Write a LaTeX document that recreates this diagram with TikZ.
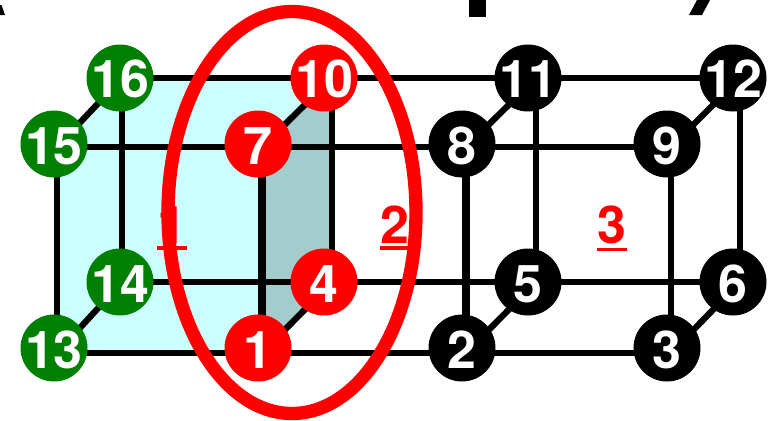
\documentclass[tikz,border=0pt]{standalone}
\usepackage{fontspec}
\setmainfont{TeX Gyre Heros}
\pgfdeclarelayer{back}
\pgfsetlayers{back,main}
\definecolor{nodegreen}{RGB}{0,128,0}
\definecolor{facecyan}{HTML}{CCFFFF}
\definecolor{facegrey}{HTML}{A3CCCC}
\newcommand\dgt[1]{\makebox[0pt]{#1}}
\tikzset{
  pt/.style={circle,inner sep=0pt,minimum size=50.25pt,text=white,
    font=\bfseries\fontsize{39}{41}\selectfont,text height=30pt,text depth=0pt},
  gn/.style={pt,fill=nodegreen},
  rd/.style={pt,fill=red},
  bk/.style={pt,fill=black},
  wire/.style={line width=4.7pt,black},
  thick wire/.style={line width=6.2pt,black},
  lab/.style={text=red,inner sep=0pt,anchor=base,font=\bfseries\fontsize{39}{41}\selectfont},
  ul/.style={red,line width=2.6pt}
}
\begin{document}
\begin{tikzpicture}[x=0.75pt,y=-0.75pt]
\useasboundingbox (0,0) rectangle (769,421);
% nodes
\node[gn] (n13) at (54,348) {\dgt{13}};
\node[gn] (n14) at (120,282) {\dgt{14}};
\node[gn] (n15) at (54,144) {\dgt{15}};
\node[gn] (n16) at (120,78) {\dgt{16}};
\node[rd] (n1) at (258,348) {\dgt{1}};
\node[rd] (n4) at (324,282) {\dgt{4}};
\node[rd] (n7) at (258,144) {\dgt{7}};
\node[rd] (n10) at (324,78) {\dgt{10}};
\node[bk] (n2) at (462,348) {\dgt{2}};
\node[bk] (n5) at (528,282) {\dgt{5}};
\node[bk] (n8) at (462,144) {\dgt{8}};
\node[bk] (n11) at (528,78) {\dgt{11}};
\node[bk] (n3) at (667,348) {\dgt{3}};
\node[bk] (n6) at (733,282) {\dgt{6}};
\node[bk] (n9) at (667,144) {\dgt{9}};
\node[bk] (n12) at (733,78) {\dgt{12}};
\begin{pgfonlayer}{back}
% clipped fragments of the title above
\fill (0,5) -- (1.5,5) -- (5,15) -- (0,15) -- cycle;
\fill (469,0) rectangle (486,17);
\fill (697,0) -- (710,0) -- (702,15) -- (689,15) -- cycle;
% faces
\fill[facecyan] (57,147) -- (122,78) -- (332,78) -- (262,147) -- (262,353) -- (57,353) -- cycle;
\fill[facegrey] (262,147) -- (332,78) -- (332,282) -- (262,353) -- cycle;
% connectors
\draw[wire] ([shift={(2,0)}]n16.center) -- ([shift={(8,0)}]n10.center) -- ([shift={(8,0)}]n11.center) -- ([shift={(7,0)}]n12.center);
\draw[wire] ([shift={(3,3)}]n15.center) -- ([shift={(4,3)}]n7.center) -- ([shift={(4,3)}]n8.center) -- ([shift={(4,3)}]n9.center);
\draw[wire] ([shift={(2,0)}]n14.center) -- ([shift={(8,0)}]n4.center) -- ([shift={(8,0)}]n5.center) -- ([shift={(7,0)}]n6.center);
\draw[wire] ([shift={(3,5)}]n13.center) -- ([shift={(4,5)}]n1.center) -- ([shift={(4,5)}]n2.center) -- ([shift={(4,5)}]n3.center);
\draw[wire] ([shift={(3,3)}]n15.center) -- ([shift={(3,5)}]n13.center);
\draw[wire] ([shift={(2,0)}]n16.center) -- ([shift={(2,0)}]n14.center);
\draw[thick wire] ([shift={(4,3)}]n7.center) -- ([shift={(4,5)}]n1.center);
\draw[wire] ([shift={(8,0)}]n10.center) -- ([shift={(8,0)}]n4.center);
\draw[thick wire] ([shift={(4,3)}]n8.center) -- ([shift={(4,5)}]n2.center);
\draw[wire] ([shift={(8,0)}]n11.center) -- ([shift={(8,0)}]n5.center);
\draw[wire] ([shift={(4,3)}]n9.center) -- ([shift={(4,5)}]n3.center);
\draw[wire] ([shift={(7,0)}]n12.center) -- ([shift={(7,0)}]n6.center);
\draw[wire] ([shift={(3,3)}]n15.center) -- ([shift={(2,0)}]n16.center);
\draw[wire] ([shift={(4,3)}]n7.center) -- ([shift={(8,0)}]n10.center);
\draw[wire] ([shift={(3,5)}]n13.center) -- ([shift={(2,0)}]n14.center);
\draw[wire] ([shift={(4,5)}]n1.center) -- ([shift={(8,0)}]n4.center);
\draw[wire] ([shift={(4,3)}]n8.center) -- ([shift={(8,0)}]n11.center);
\draw[wire] ([shift={(4,5)}]n2.center) -- ([shift={(8,0)}]n5.center);
\draw[wire] ([shift={(4,3)}]n9.center) -- ([shift={(7,0)}]n12.center);
\draw[wire] ([shift={(4,5)}]n3.center) -- ([shift={(7,0)}]n6.center);
\end{pgfonlayer}
% zone labels
\node[lab] (l1) at (172,243) {1};
\node[lab] (l2) at (395,243) {2};
\node[lab] (l3) at (612,243) {3};
\draw[ul] ([shift={(0,5)}]l1.base west) -- ([shift={(0,5)}]l1.base east);
\draw[ul] ([shift={(0,5)}]l2.base west) -- ([shift={(0,5)}]l2.base east);
\draw[ul] ([shift={(0,6.5)}]l3.base west) -- ([shift={(0,6.5)}]l3.base east);
% domain ellipse
\draw[red,line width=10pt] (292,212.5) ellipse [x radius=124,y radius=201];
\end{tikzpicture}
\end{document}
